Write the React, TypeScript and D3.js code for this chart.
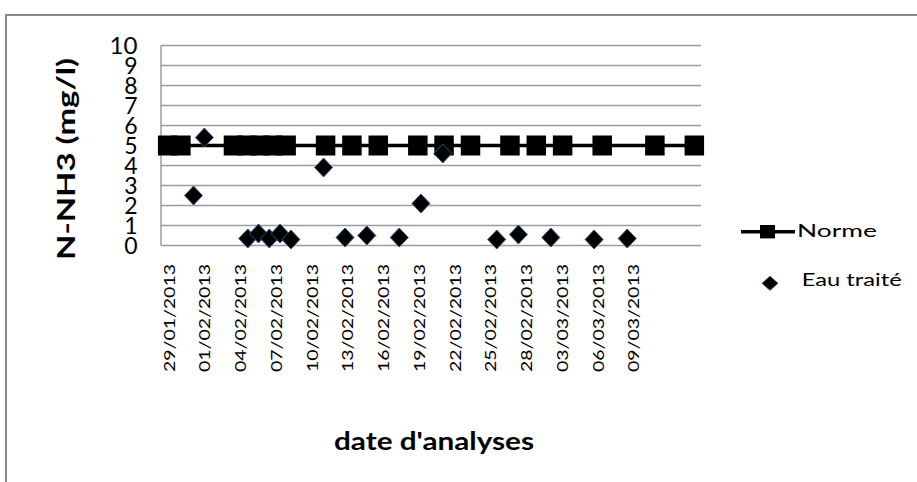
import React from "react";
import * as d3 from "d3";

// ---- Data ----
// x positions are expressed in days since 29/01/2013
const tickLabels = [
  "29/01/2013", "01/02/2013", "04/02/2013", "07/02/2013", "10/02/2013",
  "13/02/2013", "16/02/2013", "19/02/2013", "22/02/2013", "25/02/2013",
  "28/02/2013", "03/03/2013", "06/03/2013", "09/03/2013",
];
const tickDays = [0, 3, 6, 9, 12, 15, 18, 21, 24, 27, 30, 33, 36, 39];
const yTicks = [0, 1, 2, 3, 4, 5, 6, 7, 8, 9, 10];

const normeDays = [0.22, 1.33, 5.74, 6.85, 7.94, 9.05, 10.16, 13.47, 15.68, 17.89, 21.21, 23.41, 25.63, 28.94, 31.15, 33.36, 36.68, 41.1, 44.41];
const normeValues = [5, 5, 5, 5, 5, 5, 5, 5, 5, 5, 5, 5, 5, 5, 5, 5, 5, 5, 5];

const eauDays = [2.39, 3.3, 6.94, 7.84, 8.75, 9.65, 10.56, 13.3, 15.1, 16.93, 19.65, 21.47, 23.3, 27.83, 29.65, 32.37, 36.0, 38.78];
const eauValues = [2.5, 5.4, 0.35, 0.6, 0.35, 0.6, 0.3, 3.9, 0.4, 0.5, 0.4, 2.1, 4.6, 0.3, 0.55, 0.4, 0.3, 0.35];

const seriesNames = ["Norme", "Eau traité"];

// ---- Layout ----
const W = 917;
const H = 482;
const plot = { left: 161, right: 701, top: 45.5, bottom: 245.5 };
const FONT = "Lato, 'Open Sans', sans-serif";

export default function App() {
  const x = d3.scaleLinear().domain([-0.34, 44.97]).range([plot.left, plot.right]);
  const y = d3.scaleLinear().domain([0, 10]).range([plot.bottom, plot.top]);

  const norme = normeDays.map((d, i) => ({ d, v: normeValues[i] }));
  const eau = eauDays.map((d, i) => ({ d, v: eauValues[i] }));

  const line = d3
    .line<{ d: number; v: number }>()
    .x((p) => x(p.d))
    .y((p) => y(p.v));

  const diamond = (w: number, h: number) =>
    `M0,${-h / 2}L${w / 2},0L0,${h / 2}L${-w / 2},0Z`;

  const gridColor = "#9c9c9c";

  return (
    <svg
      width={W}
      height={H}
      style={{ position: "absolute", left: 0, top: 0, background: "#fff" }}
    >
      {/* outer chart border */}
      <line x1={5} x2={W} y1={15} y2={15} stroke="#8a8a8a" strokeWidth={2} />
      <line x1={6} x2={6} y1={14} y2={H} stroke="#8a8a8a" strokeWidth={2} />

      {/* gridlines */}
      {yTicks.map((t) => (
        <line
          key={"g" + t}
          x1={plot.left}
          x2={plot.right}
          y1={y(t)}
          y2={y(t)}
          stroke={gridColor}
          strokeWidth={1.5}
        />
      ))}
      <line x1={plot.left} x2={plot.left} y1={plot.top} y2={plot.bottom} stroke={gridColor} strokeWidth={1.5} />

      {/* y tick labels */}
      {yTicks.map((t) => (
        <text
          key={"yt" + t}
          x={137.5}
          y={y(t) + 8.2}
          textAnchor="end"
          fontFamily={FONT}
          fontSize={23}
          fill="#000"
          {...(String(t).length > 1 ? { textLength: 28, lengthAdjust: "spacingAndGlyphs" } : {})}
        >
          {t}
        </text>
      ))}

      {/* x tick labels */}
      {tickDays.map((d, i) => (
        <text
          key={"xt" + i}
          transform={`translate(${x(d) + 9.5},372) rotate(-90)`}
          textAnchor="start"
          fontFamily={FONT}
          fontSize={15.5}
          textLength={108}
          lengthAdjust="spacingAndGlyphs"
          fill="#000"
        >
          {tickLabels[i]}
        </text>
      ))}

      {/* axis titles */}
      <text
        transform={`translate(75,260) rotate(-90)`}
        textAnchor="start"
        fontFamily={FONT}
        fontWeight="bold"
        fontSize={25.5}
        textLength={202}
        lengthAdjust="spacingAndGlyphs"
        fill="#000"
      >
        N-NH3 (mg/l)
      </text>
      <text
        x={334}
        y={450}
        fontFamily={FONT}
        fontWeight="bold"
        fontSize={24}
        textLength={200}
        lengthAdjust="spacingAndGlyphs"
        fill="#000"
      >
        date d'analyses
      </text>

      {/* Norme series */}
      <path d={line(norme) || ""} fill="none" stroke="#000" strokeWidth={3.5} />
      {norme.map((p, i) => (
        <rect key={"n" + i} x={x(p.d) - 9.75} y={y(p.v) - 10} width={19.5} height={20} fill="#000" />
      ))}

      {/* Eau traité series */}
      {eau.map((p, i) => (
        <path
          key={"e" + i}
          d={diamond(18, 19)}
          transform={`translate(${x(p.d)},${y(p.v)})`}
          fill="#000"
          stroke="#2f5280"
          strokeWidth={1}
        />
      ))}

      {/* legend */}
      <line x1={741} x2={795} y1={231.7} y2={231.7} stroke="#000" strokeWidth={3.5} />
      <rect x={760} y={225} width={15} height={13.4} fill="#000" />
      <text x={797} y={237.3} fontFamily={FONT} fontSize={17.5} textLength={80} lengthAdjust="spacingAndGlyphs" fill="#000">
        {seriesNames[0]}
      </text>
      <path d={diamond(16, 14)} transform="translate(770,283.3)" fill="#000" stroke="#2f5280" strokeWidth={1} />
      <text x={801.7} y={285.7} fontFamily={FONT} fontSize={17.5} textLength={100} lengthAdjust="spacingAndGlyphs" fill="#000">
        {seriesNames[1]}
      </text>
    </svg>
  );
}
